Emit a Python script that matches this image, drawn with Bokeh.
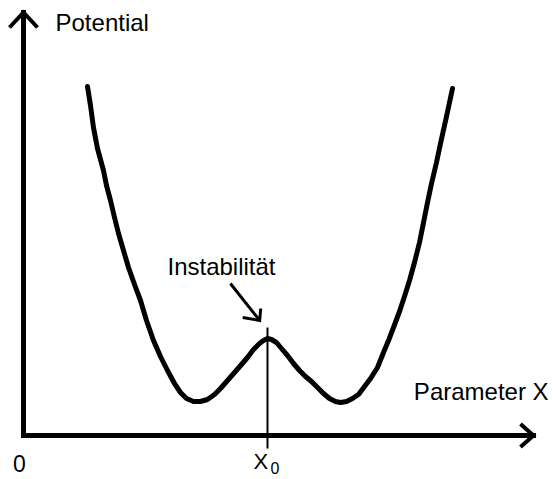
from bokeh.plotting import figure
from bokeh.models import Label, Range1d
from bokeh.embed import file_html
from bokeh.resources import INLINE

# ---- data ----
param_x = [1.311, 1.373, 1.434, 1.516, 1.639, 1.701, 1.783, 1.865, 1.947, 2.049,
           2.152, 2.275, 2.398, 2.520, 2.664, 2.807, 2.951, 3.094, 3.217, 3.340,
           3.484, 3.627, 3.770, 3.914, 4.037, 4.180, 4.324, 4.467, 4.590, 4.713,
           4.836, 4.918, 5.000, 5.082, 5.184, 5.287, 5.410, 5.533, 5.656, 5.779,
           5.902, 6.025, 6.148, 6.270, 6.393, 6.496, 6.619, 6.742, 6.865, 6.988,
           7.111, 7.254, 7.377, 7.480, 7.582, 7.705, 7.807, 7.910, 8.012, 8.115,
           8.197, 8.279, 8.361, 8.463, 8.545, 8.668, 8.791]
potential = [8.725, 8.250, 7.700, 7.175, 6.625, 6.250, 5.875, 5.450, 5.050, 4.625,
             4.200, 3.775, 3.375, 2.875, 2.375, 1.975, 1.625, 1.300, 1.075, 0.925,
             0.850, 0.850, 0.900, 1.025, 1.175, 1.375, 1.575, 1.775, 1.950, 2.150,
             2.300, 2.375, 2.425, 2.400, 2.325, 2.175, 2.000, 1.800, 1.625, 1.475,
             1.350, 1.200, 1.050, 0.925, 0.850, 0.825, 0.850, 0.925, 1.025, 1.225,
             1.425, 1.700, 2.075, 2.375, 2.700, 3.100, 3.475, 3.875, 4.325, 4.825,
             5.325, 5.825, 6.300, 6.825, 7.300, 7.975, 8.675]
x0 = 5.0                 # position of the instability
x_axis_end = 10.45
y_axis_end = 10.575
instab_line = [2.7, -0.325]          # vertical marker extent
instab_arrow_tail = (4.24, 3.8)
instab_arrow_tip = (4.84, 2.875)
labels_axis = ["Potential", "Parameter X", "0", "X", "0", "Instabilität"]

# pixel scale of the data units
PX_X = 48.8
PX_Y = 40.0

W, H = 553, 479
p = figure(width=W, height=H, output_backend="svg", toolbar_location=None,
           x_range=Range1d(-23 / PX_X, (W - 23) / PX_X),
           y_range=Range1d((435 - H) / PX_Y, 435 / PX_Y),
           min_border=0)
p.axis.visible = False
p.grid.visible = False
p.outline_line_color = None
p.background_fill_color = "white"

# curve
p.line(param_x, potential, line_color="black", line_width=5, line_join="round", line_cap="round")

# axes with open arrowheads
p.segment(x0=[0, 0], y0=[0, 0], x1=[x_axis_end, 0], y1=[0, y_axis_end],
          line_color="black", line_width=5, line_cap="square")
hx = 13 / PX_X; hy = 11.5 / PX_Y
p.multi_line(xs=[[x_axis_end - hx, x_axis_end, x_axis_end - hx]],
             ys=[[hy, 0, -hy]], line_color="black", line_width=4,
             line_join="miter")
vx = 14 / PX_X; vy = 15 / PX_Y
p.multi_line(xs=[[-vx, 0, vx]], ys=[[y_axis_end - vy, y_axis_end, y_axis_end - vy]],
             line_color="black", line_width=4, line_join="miter")

# vertical marker at X0
p.segment(x0=[x0], y0=[instab_line[0]], x1=[x0], y1=[instab_line[1]],
          line_color="black", line_width=2)

# arrow to instability
tx, ty = instab_arrow_tail
ax, ay = instab_arrow_tip
p.segment(x0=[tx], y0=[ty], x1=[ax], y1=[ay], line_color="black", line_width=3)
p.multi_line(xs=[[ax - 17 / PX_X, ax, ax + 1 / PX_X]],
             ys=[[ay + 3 / PX_Y, ay, ay + 12 / PX_Y]],
             line_color="black", line_width=3, line_join="miter")

font = "Liberation Sans"
def lab(x, y, t, size, align="left"):
    p.add_layout(Label(x=x, y=y, text=t, text_font=font, text_font_size=size,
                       text_align=align, text_baseline="alphabetic", text_color="black"))

lab(0.656, 10.325, labels_axis[0], "24px")
lab(10.76, 1.1, labels_axis[1], "24px", "right")
lab(-0.082, -0.7, labels_axis[2], "23px", "center")
lab(4.713, -0.65, labels_axis[3], "22px")
lab(5.06, -0.82, labels_axis[4], "16px")
lab(2.95, 4.225, labels_axis[5], "24px")

open("out.html", "w").write(file_html(p, INLINE))
